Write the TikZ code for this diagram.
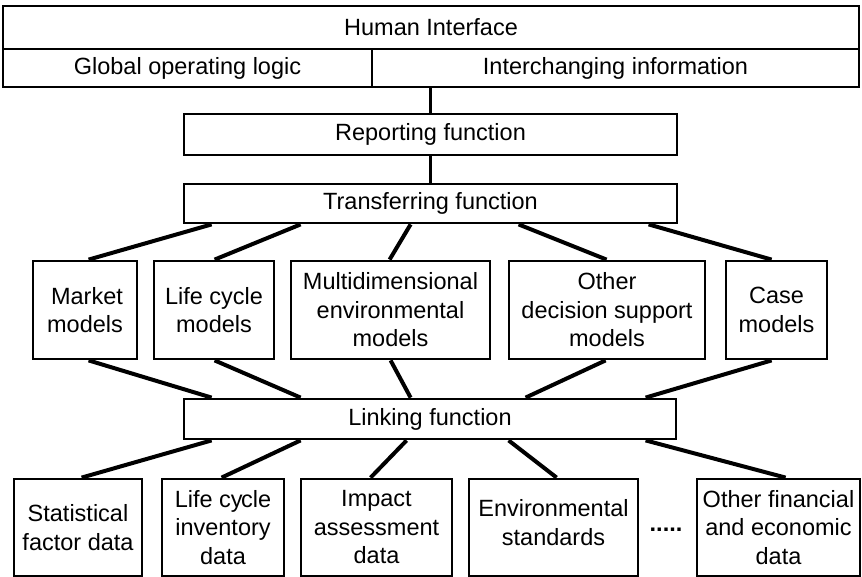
\documentclass[tikz,border=0pt]{standalone}
\usepackage{fontspec}
\setmainfont{Liberation Sans}
\usetikzlibrary{calc}
\begin{document}
\begin{tikzpicture}[x=1pt,y=-1pt,
  every node/.style={inner sep=0pt,font=\fontsize{23.5}{28.5}\selectfont},
  frame/.style={draw,line width=2pt},
  box/.style={draw,line width=2.8pt,align=center},
  conn/.style={line width=4pt},
  link/.style={line width=2.2pt}]
\useasboundingbox (0,0) rectangle (862,577);

% top interface block
\node[frame,minimum width=856,minimum height=43] (hi) at (431,27.5) {Human Interface};
\node[frame,minimum width=369,minimum height=38] (gl) at (187.5,68) {Global operating logic};
\node[frame,minimum width=487,minimum height=38] (ic) at (615.5,68) {Interchanging information};

% function bars
\node[box,line width=2.2pt,minimum width=493,minimum height=41] (rep) at (430.5,134.5) {Reporting function};
\node[box,minimum width=493,minimum height=39] (tr) at (430.5,203.5) {Transferring function};
\node[box,minimum width=492,minimum height=40] (lk) at (430,419) {Linking function};

% model row
\node[box,minimum width=104,minimum height=98] (mk) at (85,310) {\hspace*{4pt}Market\\models};
\node[box,minimum width=120,minimum height=98] (lc) at (214,310) {Life cycle\\models};
\node[box,minimum width=199,minimum height=98] (md) at (390.5,310) {Multidimensional\\environmental\\models};
\node[box,minimum width=196,minimum height=98] (od) at (607,310) {Other\\decision support\\models};
\node[box,minimum width=101,minimum height=98] (cs) at (776.5,310) {Case\\models};

% data row
\node[box,minimum width=128,minimum height=97] (sf) at (78,527.5) {Statistical\\[1pt]factor data};
\node[box,minimum width=122,minimum height=97] (li) at (223,527.5) {Life cy\kern-1.5pt cle\\inventory\\data};
\node[box,minimum width=151,minimum height=97] (ia) at (376.5,527.5) {Impact\\assessment\\data};
\node[box,minimum width=169,minimum height=97] (es) at (553.5,527.5) {};
\node[align=center] (est) at (553.5,522.5) {Environmental\\standards};
\node[box,minimum width=163,minimum height=97] (of) at (778.5,527.5) {Other financial\\and economic\\data};
\node[anchor=base,font=\fontsize{23.5}{28.5}\selectfont\bfseries] (dots) at (666,531) {.....};

% vertical links between the upper bars
\draw[link] (ic.south -| rep.north) -- (rep.north);
\draw[link] (rep.south) -- (tr.north);

% transferring function to the models
\draw[conn] ([xshift=29]tr.south west) -- ([xshift=57]mk.north west);
\draw[conn] ([xshift=118]tr.south west) -- ([xshift=62]lc.north west);
\draw[conn] ([xshift=228]tr.south west) -- ([xshift=100]md.north west);
\draw[conn] ([xshift=336]tr.south west) -- ([xshift=99]od.north west);
\draw[conn] ([xshift=466]tr.south west) -- ([xshift=47]cs.north west);

% models to the linking function
\draw[conn] ([xshift=57]mk.south west) -- ([xshift=29]lk.north west);
\draw[conn] ([xshift=62]lc.south west) -- ([xshift=118]lk.north west);
\draw[conn] ([xshift=101]md.south west) -- ([xshift=228]lk.north west);
\draw[conn] ([xshift=98]od.south west) -- ([xshift=343]lk.north west);
\draw[conn] ([xshift=47]cs.south west) -- ([xshift=463]lk.north west);

% linking function to the data sources
\draw[conn] ([xshift=29]lk.south west) -- ([xshift=69]sf.north west);
\draw[conn] ([xshift=118]lk.south west) -- ([xshift=61]li.north west);
\draw[conn] ([xshift=224]lk.south west) -- ([xshift=71]ia.north west);
\draw[conn] ([xshift=326]lk.south west) -- ([xshift=89]es.north west);
\draw[conn] ([xshift=463]lk.south west) -- ([xshift=90]of.north west);
\end{tikzpicture}
\end{document}
